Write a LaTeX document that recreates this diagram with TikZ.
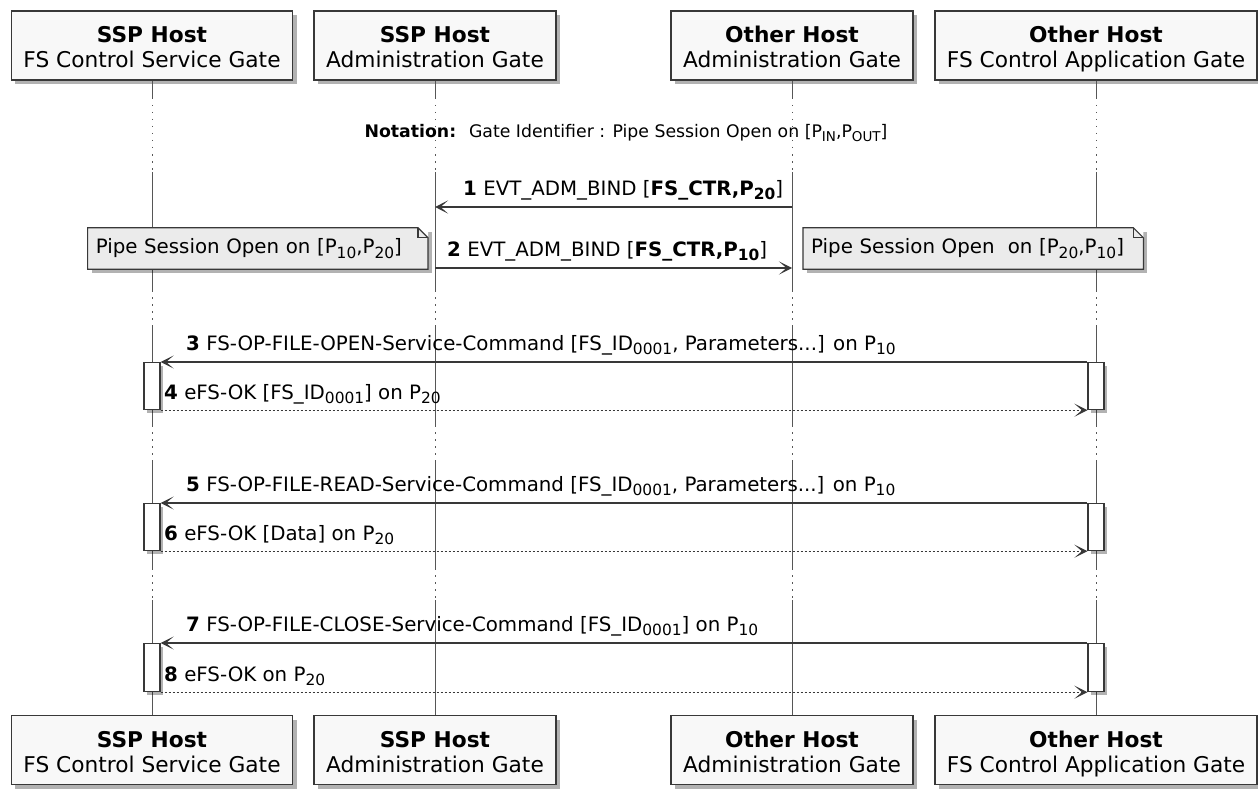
\documentclass[tikz,border=0pt]{standalone}
\usepackage{fontspec}
\setmainfont{DejaVu Sans}
\usepackage{tikz}
\usetikzlibrary{arrows.meta,positioning,calc,shadows}
\makeatletter
\newcommand{\sbs}[1]{\raisebox{-0.25em}{\fontsize{\dimexpr0.78\dimexpr\f@size pt\relax\relax}{0pt}\selectfont #1}}
\makeatother
\newcommand{\msgno}[1]{\textbf{#1}}
\newcommand{\gatelbl}[2]{\rule{0pt}{27pt}\textbf{#1}\\#2\rule[-8pt]{0pt}{0pt}}
\definecolor{umlline}{RGB}{56,56,56}
\definecolor{umlbox}{RGB}{248,248,248}
\definecolor{umlnote}{RGB}{235,235,235}

\begin{document}
\begin{tikzpicture}[x=1pt, y=-1pt, font=\fontsize{19.8}{23}\selectfont,
  gate/.style={draw=umlline, line width=1.4pt, fill=umlbox, align=center, inner xsep=12pt,
    inner ysep=2pt, minimum height=69pt, font=\fontsize{21.7}{25}\selectfont,
    drop shadow={shadow xshift=4pt, shadow yshift=-4pt, fill=black, opacity=.3}},
  life/.style={draw=umlline!85, line width=1pt},
  lifedot/.style={life, dash pattern=on 1.5pt off 5.5pt},
  call/.style={draw=umlline, line width=1.3pt, -{Stealth[length=13pt, width=13pt, inset=7.5pt]}},
  reply/.style={call, dash pattern=on 2pt off 2pt},
  msg/.style={anchor=base west, inner sep=0pt},
  act/.style={draw=umlline, line width=1.2pt, fill=white, minimum width=16pt, inner sep=0pt,
    anchor=north, drop shadow={shadow xshift=3pt, shadow yshift=-3pt, fill=black, opacity=.3}},
  note/.style={fill=umlnote, inner xsep=8pt, text width=324pt, align=left, minimum height=41pt,
    drop shadow={shadow xshift=4pt, shadow yshift=-4pt, fill=black, opacity=.3}}]
  \useasboundingbox (0,0) rectangle (1258,789);

  % ---- participants, top and bottom ----
  \node[gate] (svcTop)  at (152,45.5)  {\gatelbl{SSP Host}{FS Control Service Gate}};
  \node[gate] (admTop)  at (435,45.5)  {\gatelbl{SSP Host}{Administration Gate}};
  \node[gate] (oadmTop) at (792,45.5)  {\gatelbl{Other Host}{Administration Gate}};
  \node[gate] (appTop)  at (1096,45.5) {\gatelbl{Other Host}{FS Control Application Gate}};
  \node[gate] (svcBot)  at (152,750)  {\gatelbl{SSP Host}{FS Control Service Gate}};
  \node[gate] (admBot)  at (435,750)  {\gatelbl{SSP Host}{Administration Gate}};
  \node[gate] (oadmBot) at (792,750)  {\gatelbl{Other Host}{Administration Gate}};
  \node[gate] (appBot)  at (1096,750) {\gatelbl{Other Host}{FS Control Application Gate}};

  % ---- rows of messages and delays ----
  \coordinate (r1) at (0,207);  \coordinate (r2) at (0,268);
  \coordinate (r3) at (0,362);  \coordinate (r4) at (0,409);
  \coordinate (r5) at (0,503);  \coordinate (r6) at (0,550);
  \coordinate (r7) at (0,643);  \coordinate (r8) at (0,691);
  \coordinate (nrow) at (0,248.5);
  \coordinate (d1a) at (0,98);  \coordinate (d1b) at (0,172);
  \coordinate (d2a) at (0,290); \coordinate (d2b) at (0,325);
  \coordinate (d3a) at (0,425); \coordinate (d3b) at (0,460);
  \coordinate (d4a) at (0,568); \coordinate (d4b) at (0,600);

  % ---- lifelines (dotted where delayed) ----
  \foreach \g/\h in {svcTop/svcBot, admTop/admBot, oadmTop/oadmBot, appTop/appBot} {
    \draw[life]    (\g.south)  -- (\g |- d1a);
    \draw[lifedot] (\g |- d1a) -- (\g |- d1b);
    \draw[life]    (\g |- d1b) -- (\g |- d2a);
    \draw[lifedot] (\g |- d2a) -- (\g |- d2b);
    \draw[life]    (\g |- d2b) -- (\g |- d3a);
    \draw[lifedot] (\g |- d3a) -- (\g |- d3b);
    \draw[life]    (\g |- d3b) -- (\g |- d4a);
    \draw[lifedot] (\g |- d4a) -- (\g |- d4b);
    \draw[life]    (\g |- d4b) -- (\h.north);
  }

  \node[font=\fontsize{17.3}{20}\selectfont] (notation) at (626,133)
    {\textbf{Notation:}~ Gate Identifier : Pipe Session Open on [P\sbs{IN},P\sbs{OUT}]};

  % ---- binding ----
  \draw[call] (oadmTop |- r1) -- (admTop |- r1);
  \node[msg] (m1) at ($(admTop |- r1)+(28,-12)$) {\msgno{1} EVT\_ADM\_BIND [\textbf{FS\_CTR,P\sbs{20}}]};
  \draw[call] (admTop |- r2) -- (oadmTop |- r2);
  \node[msg] (m2) at ($(admTop |- r2)+(12,-12)$) {\msgno{2} EVT\_ADM\_BIND [\textbf{FS\_CTR,P\sbs{10}}]};

  \node[note, anchor=east] (noteL) at ($(admTop |- nrow)+(-7,0)$) {Pipe Session Open on [P\sbs{10},P\sbs{20}]};
  \node[note, anchor=west] (noteR) at ($(oadmTop |- nrow)+(11,0)$) {Pipe Session Open\ \ on [P\sbs{20},P\sbs{10}]};
  \foreach \n in {noteL, noteR} {
    \fill[white] ([xshift=-10pt]\n.north east) -- (\n.north east) -- ([yshift=-10pt]\n.north east) -- cycle;
    \draw[umlline, line width=1.2pt] (\n.south west) -- (\n.north west) -- ([xshift=-10pt]\n.north east)
      -- ([yshift=-10pt]\n.north east) -- (\n.south east) -- cycle;
    \draw[umlline, line width=1.2pt] ([xshift=-10pt]\n.north east) |- ([yshift=-10pt]\n.north east);
  }

  % ---- open / read / close ----
  \node[act, minimum height=47pt] (a34L) at (svcTop |- r3) {};
  \node[act, minimum height=47pt] (a34R) at (appTop |- r3) {};
  \draw[call] (a34R.north west) -- (a34L.north east);
  \node[msg] (m3) at ($(svcTop |- r3)+(34,-12)$) {\msgno{3} FS-OP-FILE-OPEN-Service-Command [FS\_ID\sbs{0001}, Parameters...] on P\sbs{10}};
  \draw[reply] (a34L.south east) -- (a34R.south west);
  \node[msg] (m4) at ($(svcTop |- r4)+(12,-10)$) {\msgno{4} eFS-OK [FS\_ID\sbs{0001}] on P\sbs{20}};

  \node[act, minimum height=47pt] (a56L) at (svcTop |- r5) {};
  \node[act, minimum height=47pt] (a56R) at (appTop |- r5) {};
  \draw[call] (a56R.north west) -- (a56L.north east);
  \node[msg] (m5) at ($(svcTop |- r5)+(34,-12)$) {\msgno{5} FS-OP-FILE-READ-Service-Command [FS\_ID\sbs{0001}, Parameters...] on P\sbs{10}};
  \draw[reply] (a56L.south east) -- (a56R.south west);
  \node[msg] (m6) at ($(svcTop |- r6)+(12,-10)$) {\msgno{6} eFS-OK [Data] on P\sbs{20}};

  \node[act, minimum height=48pt] (a78L) at (svcTop |- r7) {};
  \node[act, minimum height=48pt] (a78R) at (appTop |- r7) {};
  \draw[call] (a78R.north west) -- (a78L.north east);
  \node[msg] (m7) at ($(svcTop |- r7)+(34,-12)$) {\msgno{7} FS-OP-FILE-CLOSE-Service-Command [FS\_ID\sbs{0001}] on P\sbs{10}};
  \draw[reply] (a78L.south east) -- (a78R.south west);
  \node[msg] (m8) at ($(svcTop |- r8)+(12,-10)$) {\msgno{8} eFS-OK on P\sbs{20}};
\end{tikzpicture}
\end{document}
